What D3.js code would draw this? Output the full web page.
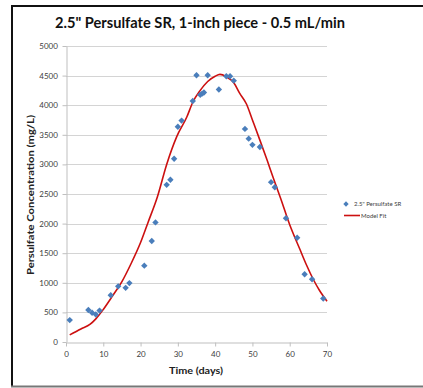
<!DOCTYPE html>
<html>
<head>
<meta charset="utf-8">
<script src="https://cdn.jsdelivr.net/npm/d3@7"></script>
<style>
  body { margin: 0; background: #fff; }
  svg { display: block; font-family: Lato, "Liberation Sans", sans-serif; }
</style>
</head>
<body>
<svg id="chart" width="423" height="388"></svg>
<script>
// measured points
const days = [1, 6, 7, 8, 9, 12, 14, 16, 17, 21, 23, 24, 27, 28, 29, 30, 31, 34, 35, 36, 36.5, 37, 38, 41, 43, 44, 45, 48, 49, 50, 52, 55, 56, 59, 62, 64, 66, 69];
const conc = [370, 540, 495, 465, 530, 790, 940, 915, 995, 1290, 1705, 2020, 2655, 2740, 3095, 3635, 3740, 4070, 4505, 4175, 4195, 4215, 4505, 4265, 4490, 4490, 4415, 3600, 3435, 3330, 3295, 2700, 2615, 2090, 1760, 1145, 1060, 735];

// model fit curve
const fitDays = [1, 4, 6.5, 8, 10, 12.5, 15, 17.5, 20, 22, 24.5, 27, 29.7, 32.4, 34, 36, 38, 40, 41.3, 43, 45, 46.6, 48.4, 50, 52, 54, 55.6, 57.6, 60, 62.7, 64.5, 66.3, 68, 70];
const fitConc = [120, 220, 300, 390, 550, 780, 1020, 1330, 1680, 2020, 2450, 3000, 3470, 3800, 4050, 4250, 4400, 4490, 4520, 4480, 4380, 4200, 4020, 3750, 3410, 3060, 2770, 2420, 1980, 1570, 1300, 1060, 870, 690];

const xTicks = [0, 10, 20, 30, 40, 50, 60, 70];
const yTicks = [0, 500, 1000, 1500, 2000, 2500, 3000, 3500, 4000, 4500, 5000];

const svg = d3.select("#chart");

// frame
svg.append("line").attr("x1", 12).attr("x2", 12).attr("y1", 5).attr("y2", 387)
  .attr("stroke", "#111").attr("stroke-width", 2);
svg.append("line").attr("x1", 11).attr("x2", 423).attr("y1", 6).attr("y2", 6)
  .attr("stroke", "#111").attr("stroke-width", 2);
svg.append("line").attr("x1", 11).attr("x2", 423).attr("y1", 386.5).attr("y2", 386.5)
  .attr("stroke", "#777").attr("stroke-width", 2);

const x = d3.scaleLinear().domain([0, 70]).range([66, 327]);
const y = d3.scaleLinear().domain([0, 5000]).range([342, 46]);

// gridlines
svg.append("g").selectAll("line").data(yTicks.slice(1)).join("line")
  .attr("x1", 66).attr("x2", 327)
  .attr("y1", d => Math.round(y(d)) + 0.5).attr("y2", d => Math.round(y(d)) + 0.5)
  .attr("stroke", "#d4d4d4");

const xAxis = svg.append("g").attr("transform", "translate(0,342.5)")
  .call(d3.axisBottom(x).tickValues(xTicks).tickFormat(d3.format("d")).tickSize(4).tickSizeOuter(0));
const yAxis = svg.append("g").attr("transform", "translate(66.5,0)")
  .call(d3.axisLeft(y).tickValues(yTicks).tickFormat(d3.format("d")).tickSize(4).tickSizeOuter(0));

[xAxis, yAxis].forEach(a => {
  a.select(".domain").attr("stroke", "#bfbfbf");
  a.selectAll(".tick line").attr("stroke", "#bfbfbf");
  a.selectAll("text").attr("fill", "#404040").attr("font-size", 8)
    .attr("font-family", "Lato, 'Liberation Sans', sans-serif");
});
xAxis.selectAll("text").attr("dy", "0.9em");
yAxis.selectAll("text").attr("dx", "-0.2em");

// fit line
svg.append("path")
  .datum(fitDays.map((d, i) => [d, fitConc[i]]))
  .attr("fill", "none").attr("stroke", "#cc1010").attr("stroke-width", 1.6)
  .attr("d", d3.line().x(d => x(d[0])).y(d => y(d[1])).curve(d3.curveMonotoneX));

// data points
svg.append("g").selectAll("path").data(days.map((d, i) => [d, conc[i]])).join("path")
  .attr("transform", d => `translate(${x(d[0])},${y(d[1])})`)
  .attr("d", d3.symbol(d3.symbolDiamond2, 26))
  .attr("fill", "#4a7ebb");

// title and axis titles
svg.append("text").attr("x", 200).attr("y", 28).attr("text-anchor", "middle")
  .attr("font-size", 16).attr("font-weight", "bold").attr("fill", "#111")
  .attr("textLength", 290).attr("lengthAdjust", "spacingAndGlyphs")
  .text('2.5" Persulfate SR, 1-inch piece - 0.5 mL/min');

svg.append("text").attr("x", 196).attr("y", 374).attr("text-anchor", "middle")
  .attr("font-size", 9).attr("font-weight", "bold").attr("fill", "#222")
  .attr("textLength", 54).attr("lengthAdjust", "spacingAndGlyphs")
  .text("Time (days)");

svg.append("text").attr("transform", "translate(34,195) rotate(-90)").attr("text-anchor", "middle")
  .attr("font-size", 9).attr("font-weight", "bold").attr("fill", "#222")
  .attr("textLength", 160).attr("lengthAdjust", "spacingAndGlyphs")
  .text("Persulfate Concentration (mg/L)");

// legend
const lg = svg.append("g").attr("font-size", 6).attr("fill", "#404040");
lg.append("path").attr("transform", "translate(346,204)")
  .attr("d", d3.symbol(d3.symbolDiamond2, 18)).attr("fill", "#4a7ebb");
lg.append("text").attr("x", 354).attr("y", 206).text('2.5" Persulfate SR');
lg.append("line").attr("x1", 344).attr("x2", 360).attr("y1", 215.5).attr("y2", 215.5)
  .attr("stroke", "#cc1010").attr("stroke-width", 1.6);
lg.append("text").attr("x", 361).attr("y", 217.5).text("Model Fit");
</script>
</body>
</html>
